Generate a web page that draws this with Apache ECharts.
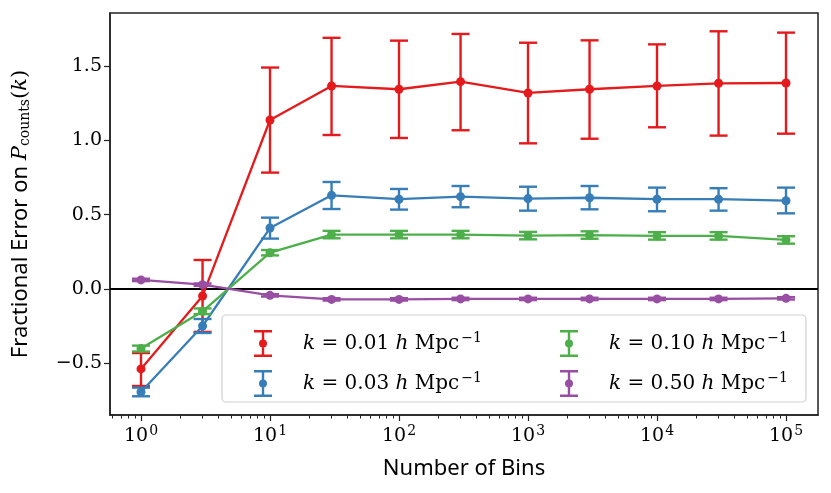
<!DOCTYPE html>
<html>
<head>
<meta charset="utf-8">
<script src="https://cdn.jsdelivr.net/npm/echarts@6/dist/echarts.min.js"></script>
<style>
  html, body { margin: 0; padding: 0; background: #fff; }
  #chart { width: 831px; height: 493px; }
</style>
</head>
<body>
<div id="chart"></div>
<script>
// number of bins (x) and the four k series: value, lower and upper error
var bins = [1, 3, 10, 30, 100, 300, 1000, 3000, 10000, 30000, 100000];

var kLabels = ['0.01', '0.03', '0.10', '0.50'];
var colors = ['#e41a1c', '#377eb8', '#4daf4a', '#984ea3'];

var redVal = [-0.538, -0.047, 1.137, 1.366, 1.344, 1.395, 1.319, 1.344, 1.366, 1.384, 1.386];
var redLo  = [-0.653, -0.289, 0.783, 1.036, 1.016, 1.068, 0.980, 1.011, 1.088, 1.032, 1.045];
var redHi  = [-0.431, 0.195, 1.490, 1.690, 1.671, 1.716, 1.657, 1.673, 1.646, 1.734, 1.725];

var blueVal = [-0.693, -0.249, 0.410, 0.630, 0.604, 0.621, 0.608, 0.614, 0.604, 0.604, 0.594];
var blueLo  = [-0.722, -0.296, 0.339, 0.538, 0.534, 0.550, 0.527, 0.536, 0.523, 0.527, 0.509];
var blueHi  = [-0.664, -0.202, 0.480, 0.720, 0.673, 0.693, 0.688, 0.693, 0.682, 0.678, 0.682];

var greenVal = [-0.401, -0.150, 0.244, 0.366, 0.366, 0.366, 0.359, 0.363, 0.357, 0.357, 0.330];
var greenLo  = [-0.421, -0.169, 0.226, 0.341, 0.341, 0.341, 0.334, 0.338, 0.332, 0.332, 0.305];
var greenHi  = [-0.381, -0.131, 0.262, 0.391, 0.391, 0.391, 0.384, 0.388, 0.382, 0.382, 0.355];

var purpleVal = [0.061, 0.029, -0.043, -0.070, -0.070, -0.067, -0.067, -0.067, -0.067, -0.067, -0.063];
var purpleLo  = [0.053, 0.021, -0.051, -0.078, -0.078, -0.075, -0.075, -0.075, -0.075, -0.075, -0.071];
var purpleHi  = [0.069, 0.037, -0.035, -0.062, -0.062, -0.059, -0.059, -0.059, -0.059, -0.059, -0.055];

var yTicks = [-0.5, 0, 0.5, 1, 1.5];
var xMajorTicks = [1, 10, 100, 1000, 10000, 100000];
var xMinorTicks = [];
[0.1, 1, 10, 100, 1000, 10000, 100000].forEach(function (d) {
  for (var m = 2; m <= 9; m++) xMinorTicks.push(m * d);
});

var allVal = [redVal, blueVal, greenVal, purpleVal];
var allLo = [redLo, blueLo, greenLo, purpleLo];
var allHi = [redHi, blueHi, greenHi, purpleHi];

var serif = '"DejaVu Serif", "Liberation Serif", serif';
var sans = '"Noto Sans", "DejaVu Sans", sans-serif';

var errIcon = 'path://M0,0 H18 V2.4 H10.2 V24.6 H18 V27 H0 V24.6 H7.8 V2.4 H0 Z ' +
  'M5,13.5 a4,4 0 1,1 8,0 a4,4 0 1,1 -8,0 Z';

function seriesName(i) { return 'k=' + kLabels[i]; }

var series = [];
for (var s = 0; s < 4; s++) {
  (function (s) {
    var errData = bins.map(function (b, i) { return [b, allLo[s][i], allHi[s][i]]; });
    series.push({
      name: seriesName(s),
      type: 'line',
      data: bins.map(function (b, i) { return [b, allVal[s][i]]; }),
      symbol: 'circle',
      symbolSize: 9,
      color: colors[s],
      lineStyle: { width: 2.3, color: colors[s] },
      itemStyle: { color: colors[s] },
      z: 3 + s * 2,
      animation: false,
      markLine: s === 0 ? {
        silent: true,
        symbol: 'none',
        label: { show: false },
        lineStyle: { color: '#000', width: 2, type: 'solid' },
        data: [{ yAxis: 0 }],
        z: 2
      } : undefined
    });
    series.push({
      name: seriesName(s),
      type: 'custom',
      data: errData,
      encode: { x: 0, y: [1, 2] },
      z: 3 + s * 2,
      animation: false,
      renderItem: function (params, api) {
        var top = api.coord([api.value(0), api.value(2)]);
        var bot = api.coord([api.value(0), api.value(1)]);
        var half = 9;
        var st = { stroke: colors[s], lineWidth: 2.4 };
        return {
          type: 'group',
          children: [
            { type: 'line', shape: { x1: top[0], y1: top[1], x2: bot[0], y2: bot[1] }, style: st },
            { type: 'line', shape: { x1: top[0] - half, y1: top[1], x2: top[0] + half, y2: top[1] }, style: st },
            { type: 'line', shape: { x1: bot[0] - half, y1: bot[1], x2: bot[0] + half, y2: bot[1] }, style: st }
          ]
        };
      }
    });
  })(s);
}

var legendRich = {
  g: { width: 26 },
  i: { fontFamily: serif, fontStyle: 'italic', fontSize: 20, color: '#000' },
  t: { fontFamily: serif, fontSize: 20, color: '#000' },
  sup: { fontFamily: serif, fontSize: 14, color: '#000', padding: [0, 0, 11, 2] }
};

function legendFormat(name) {
  var kv = name.split('=')[1];
  return '{g| }{i|k}{t| = ' + kv + ' }{i|h}{t| Mpc}{sup|\u22121}';
}

function makeLegend(idx, left) {
  return {
    orient: 'vertical',
    left: left,
    top: 325,
    itemWidth: 18,
    itemHeight: 27,
    itemGap: 13,
    z: 20,
    selectedMode: false,
    data: idx.map(function (i) { return { name: seriesName(i), icon: errIcon }; }),
    formatter: legendFormat,
    textStyle: { rich: legendRich }
  };
}

var chart = echarts.init(document.getElementById('chart'), null, { renderer: 'canvas' });

var option = {
  animation: false,
  backgroundColor: '#fff',
  grid: {
    left: 110, right: 13, top: 13, bottom: 78,
    show: true, borderColor: '#222', borderWidth: 1.5, backgroundColor: 'transparent'
  },
  legend: [makeLegend([0, 1], 249), makeLegend([2, 3], 555)],
  graphic: [{
    type: 'rect',
    z: 10,
    shape: { x: 222, y: 315, width: 584, height: 87, r: 4 },
    style: { fill: 'rgba(255,255,255,0.8)', stroke: '#d0d0d0', lineWidth: 1.2 }
  }],
  xAxis: [{
    type: 'log',
    logBase: 10,
    min: 0.575,
    max: 177000,
    name: 'Number of Bins',
    nameLocation: 'middle',
    nameGap: 43,
    nameTextStyle: { fontFamily: sans, fontSize: 22, color: '#000' },
    axisLine: { show: true, onZero: false, lineStyle: { color: '#222', width: 1.5 } },
    axisTick: { show: true, inside: false, length: 6, customValues: xMajorTicks, lineStyle: { color: '#222', width: 1.2 } },
    splitLine: { show: false },
    axisLabel: {
      customValues: xMajorTicks,
      margin: 9,
      formatter: function (v) {
        return '{b|10}{s|' + Math.round(Math.log10(v)) + '}';
      },
      rich: {
        b: { fontFamily: serif, fontSize: 19, color: '#000' },
        s: { fontFamily: serif, fontSize: 14, color: '#000', padding: [0, 0, 10, 1] }
      }
    }
  }, {
    type: 'log',
    logBase: 10,
    min: 0.575,
    max: 177000,
    position: 'bottom',
    axisLine: { show: false, onZero: false },
    axisTick: { show: true, inside: false, length: 3.5, customValues: xMinorTicks, lineStyle: { color: '#222', width: 1 } },
    axisLabel: { show: false },
    splitLine: { show: false }
  }],
  yAxis: {
    type: 'value',
    min: -0.848,
    max: 1.857,
    name: '{s|Fractional Error on }{m|P}{sub|counts}{t|(}{m|k}{t|)}',
    nameLocation: 'middle',
    nameRotate: 90,
    nameGap: 78,
    nameTextStyle: {
      rich: {
        s: { fontFamily: sans, fontSize: 22, color: '#000' },
        m: { fontFamily: serif, fontSize: 21, color: '#000', fontStyle: 'italic' },
        t: { fontFamily: serif, fontSize: 21, color: '#000' },
        sub: { fontFamily: serif, fontSize: 14, color: '#000', padding: [9, 0, 0, 0] }
      }
    },
    axisLine: { show: true, onZero: false, lineStyle: { color: '#222', width: 1.5 } },
    axisTick: { show: true, inside: false, length: 6, customValues: yTicks, lineStyle: { color: '#222', width: 1.2 } },
    splitLine: { show: false },
    axisLabel: {
      customValues: yTicks,
      margin: 8,
      fontFamily: serif,
      fontSize: 19,
      color: '#000',
      formatter: function (v) {
        return (v < 0 ? '\u2212' : '') + Math.abs(v).toFixed(1);
      }
    }
  },
  series: series
};

chart.setOption(option);
window.addEventListener('resize', chart.resize);
</script>
</body>
</html>
